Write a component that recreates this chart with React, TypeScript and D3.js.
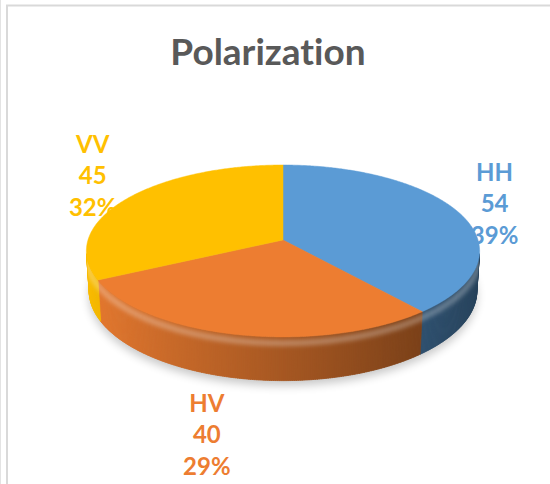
import { useEffect, useRef } from 'react';
import * as d3 from 'd3';

const categories = ['HH', 'HV', 'VV'];
const values = [54, 40, 45];
const percentLabels = ['39%', '29%', '32%'];
const colors = ['#5B9BD5', '#ED7D31', '#FFC000'];
const chartTitle = 'Polarization';

export default function App() {
  const svgRef = useRef<SVGSVGElement>(null);

  useEffect(() => {
    if (!svgRef.current) return;
    const width = 550;
    const height = 484;
    const root = d3.select(svgRef.current);
    root.selectAll('*').remove();
    root.attr('width', width).attr('height', height);

    // frame lines
    root.append('line').attr('x1', 0.5).attr('x2', 0.5).attr('y1', 0).attr('y2', height)
      .attr('stroke', '#e3e3e3').attr('stroke-width', 1);
    root.append('line').attr('x1', 7).attr('x2', 7).attr('y1', 5).attr('y2', height)
      .attr('stroke', '#d9d9d9').attr('stroke-width', 2);
    root.append('line').attr('x1', 6).attr('x2', width).attr('y1', 5.5).attr('y2', 5.5)
      .attr('stroke', '#d9d9d9').attr('stroke-width', 2);

    root.append('text')
      .attr('x', 268).attr('y', 65)
      .attr('text-anchor', 'middle')
      .attr('font-family', 'Lato, sans-serif')
      .attr('font-weight', 'bold')
      .attr('font-size', 37)
      .attr('fill', '#595959')
      .style('font-variant-ligatures', 'none')
      .style('font-feature-settings', '"liga" 0, "clig" 0')
      .text(chartTitle);

    // 3D projection of the pie (units of radius)
    const cx = 283;
    const cy = 240;
    const S = 195;
    const k = 0.1417;
    const tilt = (25.7 * Math.PI) / 180;
    const T = 0.228;
    const project = (theta: number, r: number, h: number): [number, number] => {
      const X = r * Math.sin(theta);
      const Z = r * Math.cos(theta);
      const yc = h * Math.cos(tilt) + Z * Math.sin(tilt);
      const z = 1 + k * (Z * Math.cos(tilt) - h * Math.sin(tilt));
      return [cx + (S * X) / z, cy - (S * yc) / z];
    };

    const arcs = d3.pie<number>().sort(null).startAngle(0).endAngle(Math.PI * 2)(values);
    const line = d3.line();
    const step = Math.PI / 360;

    const defs = root.append('defs');
    const blur = defs.append('filter').attr('id', 'shadowBlur')
      .attr('x', '-20%').attr('y', '-20%').attr('width', '140%').attr('height', '140%');
    blur.append('feGaussianBlur').attr('stdDeviation', 5);
    const soft = defs.append('filter').attr('id', 'softBlur')
      .attr('x', '-10%').attr('y', '-50%').attr('width', '120%').attr('height', '200%');
    soft.append('feGaussianBlur').attr('stdDeviation', 2.2);

    // soft shadow under the pie
    const bottomRim: [number, number][] = d3.range(0, Math.PI * 2 + step, step * 4)
      .map(t => {
        const p = project(t, 1.0, -T);
        return [p[0], p[1] + 5] as [number, number];
      });
    root.append('path')
      .attr('d', line(bottomRim) + 'Z')
      .attr('fill', '#000')
      .attr('opacity', 0.22)
      .attr('filter', 'url(#shadowBlur)');

    // visible outer wall, shaded in thin strips
    const visLimit = Math.acos(-k / Math.cos(tilt));
    const visA = visLimit;
    const visB = Math.PI * 2 - visLimit;
    const shade = (base: string, f: number) => {
      const c = d3.rgb(base);
      return d3.rgb(Math.min(255, c.r * f), Math.min(255, c.g * f), Math.min(255, c.b * f)).toString();
    };
    const wall = root.append('g');
    arcs.forEach((a, i) => {
      const s = Math.max(a.startAngle, visA);
      const e = Math.min(a.endAngle, visB);
      if (e <= s) return;
      for (let t = s; t < e; t += step) {
        const t2 = Math.min(e, t + step * 1.5);
        const f = 0.7 - 0.28 * Math.sin((t + t2) / 2);
        const pts = [project(t, 1, 0), project(t2, 1, 0), project(t2, 1, -T), project(t, 1, -T)];
        const col = shade(colors[i], f);
        wall.append('path')
          .attr('d', line(pts) + 'Z')
          .attr('fill', col)
          .attr('stroke', col)
          .attr('stroke-width', 0.6);
      }
    });

    // rounded bevel highlight along the near rim
    const wallClip = defs.append('clipPath').attr('id', 'wallClip');
    const wallTop = d3.range(visA, visB, step).map(t => project(t, 1, 0));
    const wallBottom = d3.range(visB, visA, -step).map(t => project(t, 1, -T));
    wallClip.append('path').attr('d', line([...wallTop, ...wallBottom]) + 'Z');
    const bevelLine = d3.range(visA, visB, step).map(t => project(t, 1, -0.14 * T));
    root.append('g').attr('clip-path', 'url(#wallClip)')
      .append('path')
      .attr('d', line(bevelLine))
      .attr('fill', 'none')
      .attr('stroke', '#fff')
      .attr('stroke-opacity', 0.28)
      .attr('stroke-width', 6)
      .attr('filter', 'url(#softBlur)');

    // top faces
    arcs.forEach((a, i) => {
      const pts: [number, number][] = [project(0, 0, 0)];
      for (let t = a.startAngle; t < a.endAngle; t += step) pts.push(project(t, 1, 0));
      pts.push(project(a.endAngle, 1, 0));
      root.append('path')
        .attr('d', line(pts) + 'Z')
        .attr('fill', colors[i])
        .attr('stroke', colors[i])
        .attr('stroke-width', 0.5);
    });

    // labels
    const boxW = 46;
    const boxH = 96;
    const gap = 14;
    const lineH = 31.5;
    arcs.forEach((a, i) => {
      const mid = (a.startAngle + a.endAngle) / 2;
      const dx = Math.sin(mid);
      const dy = -Math.cos(mid);
      const anchor = project(mid, 1, Math.cos(mid) < 0 ? -T : 0);
      const lx = anchor[0] + Math.sign(dx) * boxW / 2 + dx * gap - (dy > 0 ? 6 : 0);
      const ly = anchor[1] + dy * (boxH / 2 + 10) + (1 - Math.abs(dy)) * 18;
      const lines = [categories[i], String(values[i]), percentLabels[i]];
      const txt = root.append('text')
        .attr('text-anchor', 'middle')
        .attr('font-family', 'Lato, sans-serif')
        .attr('font-weight', 'bold')
        .attr('font-size', 24)
        .attr('fill', colors[i]);
      lines.forEach((l, j) => {
        txt.append('tspan')
          .attr('x', lx)
          .attr('y', ly + (j - 1) * lineH + 8)
          .text(l);
      });
    });
  }, []);

  return (
    <div style={{ position: 'absolute', left: 0, top: 0 }}>
      <svg ref={svgRef}></svg>
    </div>
  );
}
